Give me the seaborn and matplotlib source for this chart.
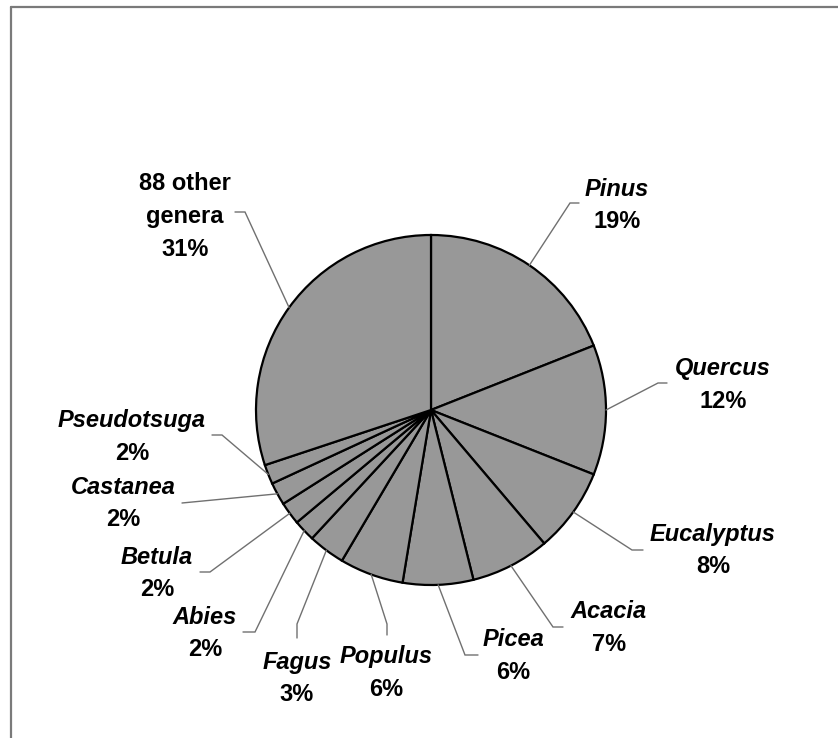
# Pie chart of tree genera shares with leader-line labels.
import numpy as np
import matplotlib.pyplot as plt
from matplotlib.lines import Line2D
import seaborn as sns

# data (wedge shares in %, and the printed labels)
genera = ["Pinus", "Quercus", "Eucalyptus", "Acacia", "Picea", "Populus",
          "Fagus", "Abies", "Betula", "Castanea", "Pseudotsuga",
          "88 other\ngenera"]
shares = [19.0, 12.0, 7.8, 7.3, 6.5, 5.9, 3.4, 2.0, 2.1, 2.1, 1.8, 30.1]
pct_labels = ["19%", "12%", "8%", "7%", "6%", "6%", "3%", "2%", "2%", "2%",
              "2%", "31%"]
italic = [True] * 11 + [False]

# label layout in pixels: text centre, leader knee, leader end
text_pos = [(617, 187), (723, 367), (713, 532), (609, 610), (513, 638),
            (386, 655), (297, 660), (205, 615), (157, 555), (123, 485),
            (132, 419), (185, 182)]
knees = [(570, 203), (658, 383), (632, 550), (553, 627), (465, 655),
         (387, 624), (297, 624), (255, 632), (210, 572), (182, 503),
         (222, 435), (245, 212)]
ends = [(579, 203), (667, 383), (643, 550), (563, 627), (478, 655),
        (387, 635), (297, 638), (243, 632), (200, 572), (182, 503),
        (212, 435), (235, 212)]

W, H = 838, 738
CX, CY, R = 431, 410, 175
LINE = 32.5


def px(x, y):
    return (x - CX) / R, (CY - y) / R


def main():
    sns.set_theme(style="white")
    plt.rcParams['font.family'] = ['Liberation Sans', 'DejaVu Sans']

    fig = plt.figure(figsize=(W / 100, H / 100), dpi=100)
    ax = fig.add_axes([0, 0, 1, 1])

    wedges, _ = ax.pie(shares, startangle=90, counterclock=False, radius=1,
                       colors=["#989898"] * len(shares),
                       wedgeprops=dict(edgecolor="black", linewidth=1.6))

    for w, tp, kn, en, name, pct, it in zip(wedges, text_pos, knees, ends,
                                            genera, pct_labels, italic):
        ang = np.deg2rad((w.theta1 + w.theta2) / 2)
        ax_x, ax_y = np.cos(ang), np.sin(ang)
        kx, ky = px(*kn)
        ex, ey = px(*en)
        ax.plot([ax_x, kx, ex], [ax_y, ky, ey], color="#707070", lw=1.0,
                solid_joinstyle="miter", zorder=1)
        lines = name.split("\n") + [pct]
        for i, s in enumerate(lines):
            x, y = px(tp[0], tp[1] + i * LINE + 8.5)
            style = "italic" if (it and i == 0) else "normal"
            ax.text(x, y, s, ha="center", va="baseline", fontsize=17,
                    fontweight="bold", fontstyle=style, color="black")

    ax.set_xlim(-CX / R, (W - CX) / R)
    ax.set_ylim(-(H - CY) / R, CY / R)
    ax.set_aspect("auto")
    ax.axis("off")

    # frame lines on top and left edge only
    fig.add_artist(Line2D([11 / W, 1], [1 - 7 / H, 1 - 7 / H],
                          color="#7a7a7a", lw=1.6))
    fig.add_artist(Line2D([11 / W, 11 / W], [0, 1 - 7 / H],
                          color="#7a7a7a", lw=1.6))

    fig.savefig("out.png", dpi=100)


if __name__ == "__main__":
    main()
